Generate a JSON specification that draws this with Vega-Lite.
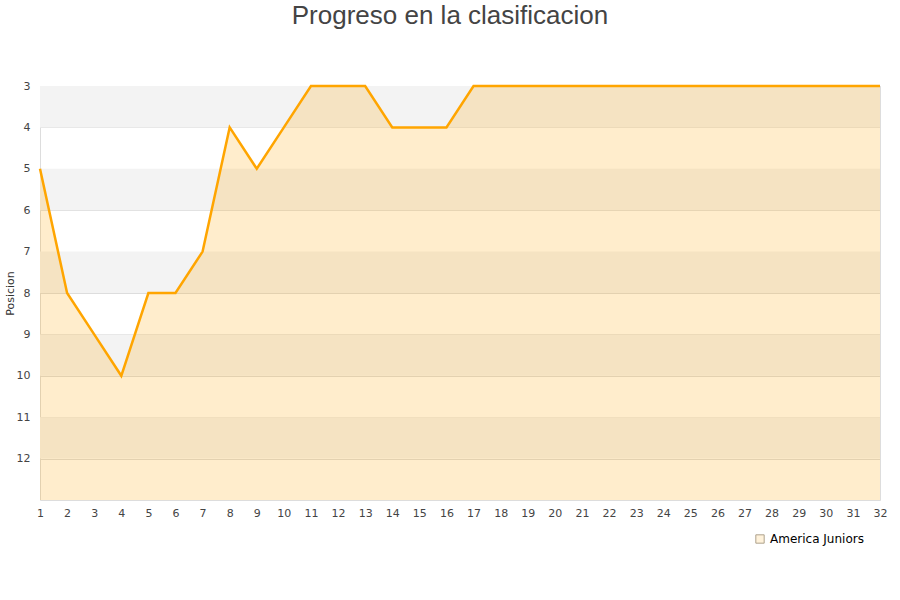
{
  "$schema": "https://vega.github.io/schema/vega-lite/v6.json",
  "width": 840,
  "height": 414,
  "autosize": "none",
  "padding": {"left": 40, "top": 86, "right": 20, "bottom": 100},
  "title": {
    "text": "Progreso en la clasificacion",
    "font": "Liberation Sans",
    "fontSize": 26,
    "fontWeight": "normal",
    "color": "#444444",
    "anchor": "middle",
    "dx": -10,
    "offset": 51
  },
  "config": {
    "view": {"stroke": "#dddddd"},
    "font": "DejaVu Sans",
    "axisX": {"labelOverlap": false, "labelFlush": false}
  },
  "datasets": {
    "bandas": [
      {"desde": 3, "hasta": 4},
      {"desde": 5, "hasta": 6},
      {"desde": 7, "hasta": 8},
      {"desde": 9, "hasta": 10},
      {"desde": 11, "hasta": 12}
    ],
    "progreso": [
      {"jornada": 1, "posicion": 5, "equipo": "America Juniors"},
      {"jornada": 2, "posicion": 8, "equipo": "America Juniors"},
      {"jornada": 3, "posicion": 9, "equipo": "America Juniors"},
      {"jornada": 4, "posicion": 10, "equipo": "America Juniors"},
      {"jornada": 5, "posicion": 8, "equipo": "America Juniors"},
      {"jornada": 6, "posicion": 8, "equipo": "America Juniors"},
      {"jornada": 7, "posicion": 7, "equipo": "America Juniors"},
      {"jornada": 8, "posicion": 4, "equipo": "America Juniors"},
      {"jornada": 9, "posicion": 5, "equipo": "America Juniors"},
      {"jornada": 10, "posicion": 4, "equipo": "America Juniors"},
      {"jornada": 11, "posicion": 3, "equipo": "America Juniors"},
      {"jornada": 12, "posicion": 3, "equipo": "America Juniors"},
      {"jornada": 13, "posicion": 3, "equipo": "America Juniors"},
      {"jornada": 14, "posicion": 4, "equipo": "America Juniors"},
      {"jornada": 15, "posicion": 4, "equipo": "America Juniors"},
      {"jornada": 16, "posicion": 4, "equipo": "America Juniors"},
      {"jornada": 17, "posicion": 3, "equipo": "America Juniors"},
      {"jornada": 18, "posicion": 3, "equipo": "America Juniors"},
      {"jornada": 19, "posicion": 3, "equipo": "America Juniors"},
      {"jornada": 20, "posicion": 3, "equipo": "America Juniors"},
      {"jornada": 21, "posicion": 3, "equipo": "America Juniors"},
      {"jornada": 22, "posicion": 3, "equipo": "America Juniors"},
      {"jornada": 23, "posicion": 3, "equipo": "America Juniors"},
      {"jornada": 24, "posicion": 3, "equipo": "America Juniors"},
      {"jornada": 25, "posicion": 3, "equipo": "America Juniors"},
      {"jornada": 26, "posicion": 3, "equipo": "America Juniors"},
      {"jornada": 27, "posicion": 3, "equipo": "America Juniors"},
      {"jornada": 28, "posicion": 3, "equipo": "America Juniors"},
      {"jornada": 29, "posicion": 3, "equipo": "America Juniors"},
      {"jornada": 30, "posicion": 3, "equipo": "America Juniors"},
      {"jornada": 31, "posicion": 3, "equipo": "America Juniors"},
      {"jornada": 32, "posicion": 3, "equipo": "America Juniors"}
    ]
  },
  "layer": [
    {
      "data": {"name": "bandas"},
      "mark": {"type": "rect", "fill": "#f3f3f3"},
      "encoding": {
        "y": {
          "field": "desde",
          "type": "quantitative",
          "scale": {"domain": [3, 13], "reverse": true, "zero": false, "nice": false},
          "axis": {
            "title": "Posicion",
            "titleFont": "DejaVu Sans",
            "titleFontSize": 11,
            "titleFontWeight": "normal",
            "titleColor": "#333333",
            "titlePadding": 1,
            "values": [3, 4, 5, 6, 7, 8, 9, 10, 11, 12],
            "labelFontSize": 11,
            "labelColor": "#444444",
            "labelPadding": 10,
            "ticks": false,
            "domain": false,
            "grid": true,
            "gridColor": "#dddddd"
          }
        },
        "y2": {"field": "hasta"}
      }
    },
    {
      "data": {"name": "progreso"},
      "mark": {"type": "area", "fill": "#ffa500", "fillOpacity": 0.2},
      "encoding": {
        "x": {
          "field": "jornada",
          "type": "quantitative",
          "scale": {"domain": [1, 32], "nice": false, "zero": false},
          "axis": {
            "title": null,
            "values": [1, 2, 3, 4, 5, 6, 7, 8, 9, 10, 11, 12, 13, 14, 15, 16, 17, 18, 19, 20, 21, 22, 23, 24, 25, 26, 27, 28, 29, 30, 31, 32],
            "tickCount": 32,
            "labelFontSize": 11,
            "labelColor": "#444444",
            "labelPadding": 7,
            "labelOverlap": false,
            "labelFlush": false,
            "ticks": false,
            "domain": false,
            "grid": false
          }
        },
        "y": {"field": "posicion", "type": "quantitative"},
        "y2": {"datum": 13}
      }
    },
    {
      "data": {"name": "progreso"},
      "mark": {"type": "line", "color": "#ffa500", "strokeWidth": 2.5},
      "encoding": {
        "x": {
          "field": "jornada",
          "type": "quantitative",
          "axis": {
            "title": null,
            "values": [1, 2, 3, 4, 5, 6, 7, 8, 9, 10, 11, 12, 13, 14, 15, 16, 17, 18, 19, 20, 21, 22, 23, 24, 25, 26, 27, 28, 29, 30, 31, 32],
            "tickCount": 32,
            "labelFontSize": 11,
            "labelColor": "#444444",
            "labelPadding": 7,
            "labelOverlap": false,
            "labelFlush": false,
            "ticks": false,
            "domain": false,
            "grid": false
          }
        },
        "y": {"field": "posicion", "type": "quantitative"}
      }
    },
    {
      "data": {"name": "progreso"},
      "mark": {"type": "point", "filled": true, "size": 0, "stroke": "#8c7b5c", "strokeWidth": 1},
      "encoding": {
        "x": {
          "field": "jornada",
          "type": "quantitative",
          "axis": {
            "title": null,
            "values": [1, 2, 3, 4, 5, 6, 7, 8, 9, 10, 11, 12, 13, 14, 15, 16, 17, 18, 19, 20, 21, 22, 23, 24, 25, 26, 27, 28, 29, 30, 31, 32],
            "tickCount": 32,
            "labelFontSize": 11,
            "labelColor": "#444444",
            "labelPadding": 7,
            "labelOverlap": false,
            "labelFlush": false,
            "ticks": false,
            "domain": false,
            "grid": false
          }
        },
        "y": {"field": "posicion", "type": "quantitative"},
        "fill": {
          "field": "equipo",
          "type": "nominal",
          "scale": {"range": ["#ffedcc"]},
          "legend": {
            "title": null,
            "orient": "none",
            "legendX": 714,
            "legendY": 447,
            "symbolType": "square",
            "symbolSize": 70,
            "symbolStrokeColor": "#8c7b5c",
            "symbolStrokeWidth": 1,
            "labelFontSize": 12,
            "labelColor": "#000000",
            "labelFont": "DejaVu Sans"
          }
        }
      }
    }
  ]
}
